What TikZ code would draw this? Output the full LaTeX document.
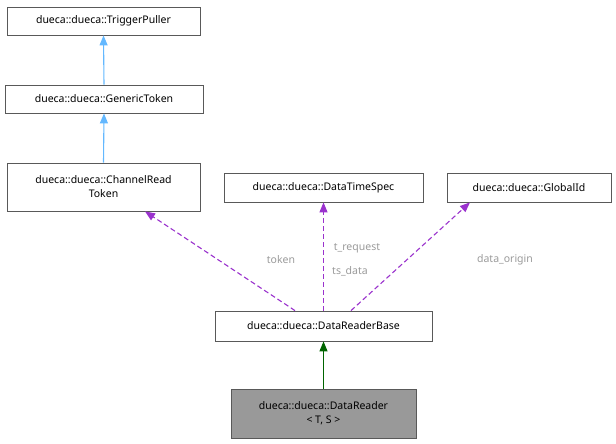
\documentclass[tikz,border=0pt]{standalone}
\usepackage{fontspec}
\setmainfont{Noto Sans}
\usetikzlibrary{arrows.meta}
\definecolor{inh}{HTML}{63B8FF}
\definecolor{usg}{HTML}{9A32CD}
\definecolor{grn}{HTML}{006400}
\definecolor{lbl}{HTML}{9A9A9A}
\begin{document}
\begin{tikzpicture}[x=1pt,y=-1pt,line width=1.1pt,
  box/.style={draw=black!65,line width=0.8pt,fill=white,align=center,inner sep=0pt,font=\fontsize{10.5}{14}\selectfont},
  inhe/.style={color=inh,-{Triangle[fill=inh,length=10pt,width=8pt]}},
  use/.style={color=usg,dash pattern=on 5pt off 3pt,-{Triangle[fill=usg,length=10pt,width=8pt]}},
  pub/.style={color=grn,-{Triangle[fill=grn,length=10pt,width=8pt]}},
  lab/.style={text=lbl,font=\fontsize{10.5}{12}\selectfont}]
\useasboundingbox (0,0) rectangle (616,444);
\node[box,minimum width=193pt,minimum height=28pt] (tp) at (103.5,21) {dueca::dueca::TriggerPuller};
\node[box,minimum width=198pt,minimum height=28pt] (gt) at (104,99) {dueca::dueca::GenericToken};
\node[box,minimum width=193pt,minimum height=48pt] (crt) at (103.5,187) {dueca::dueca::ChannelRead\\Token};
\node[box,minimum width=199pt,minimum height=29pt] (dts) at (323.5,187.5) {dueca::dueca::DataTimeSpec};
\node[box,minimum width=164pt,minimum height=29pt] (gid) at (529,187.5) {dueca::dueca::GlobalId};
\node[box,minimum width=217pt,minimum height=30pt] (drb) at (323.5,326) {dueca::dueca::DataReaderBase};
\node[box,fill=black!40,minimum width=185pt,minimum height=49pt] (dr) at (323.5,413.5) {dueca::dueca::DataReader\\< T, S >};
\draw[inhe] (gt.north) -- (tp.south);
\draw[inhe] (crt.north) -- (gt.south);
\draw[use] (drb.north -| 295,0) -- (crt.south -| 145,0);
\draw[use] (drb.north) -- (dts.south);
\draw[use] (drb.north -| 351,0) -- (gid.south -| 470,0);
\draw[pub] (dr.north) -- (drb.south);
\node[lab] (l1) at (281,260) {token};
\node[lab] (l2) at (357,248) {t\_request};
\node[lab] (l3) at (350,271) {ts\_data};
\node[lab] (l4) at (505,260) {data\_origin};
\end{tikzpicture}
\end{document}
